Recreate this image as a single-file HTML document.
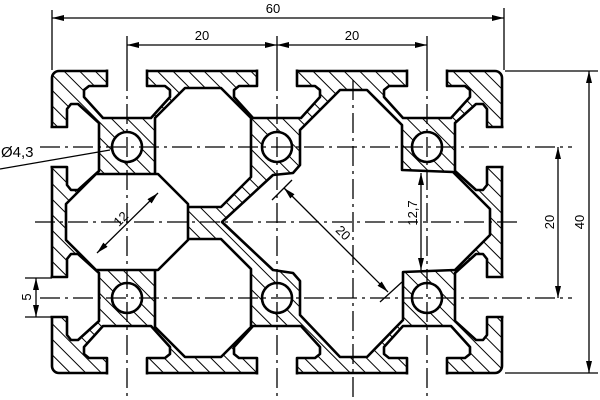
<!DOCTYPE html>
<html><head><meta charset="utf-8"><style>
html,body{margin:0;padding:0;background:#fff;}
svg{display:block;}
text{font-family:"Liberation Sans",sans-serif;font-size:13px;fill:#000;}
</style></head><body>
<svg width="600" height="400" viewBox="0 0 600 400" xmlns="http://www.w3.org/2000/svg">
<defs>
<pattern id="h" width="11" height="11" patternUnits="userSpaceOnUse" patternTransform="rotate(45)">
<rect width="11" height="11" fill="#fff"/>
<line x1="0" y1="5" x2="11" y2="5" stroke="#000" stroke-width="1"/>
</pattern>
<marker id="a" viewBox="0 0 12 6" refX="12" refY="3" markerWidth="12" markerHeight="6" markerUnits="userSpaceOnUse" orient="auto-start-reverse">
<path d="M0,0 L12,3 L0,6 z" fill="#000"/>
</marker>
<polygon id="slot" points="-20,-5 20,-5 20,15 38,15 43,19 43,26 24,47 -24,47 -43,26 -43,19 -38,15 -20,15"/>
</defs>

<!-- profile body -->
<rect x="52" y="71" width="450" height="302" rx="7" fill="url(#h)" stroke="#000" stroke-width="2.6"/>

<g fill="#fff" stroke="#000" stroke-width="2.6" stroke-linejoin="round">
<use href="#slot" transform="translate(127,71)"/>
<use href="#slot" transform="translate(277,71)"/>
<use href="#slot" transform="translate(427,71)"/>
<use href="#slot" transform="translate(127,373) scale(1,-1)"/>
<use href="#slot" transform="translate(277,373) scale(1,-1)"/>
<use href="#slot" transform="translate(427,373) scale(1,-1)"/>
<use href="#slot" transform="translate(52,147) rotate(-90)"/>
<use href="#slot" transform="translate(52,297) rotate(-90)"/>
<use href="#slot" transform="translate(502,147) rotate(90)"/>
<use href="#slot" transform="translate(502,297) rotate(90)"/>

<polygon points="185,88 221,88 251,118 251,177 221,207 185,207 155,177 155,118"/>
<polygon points="185,239 221,239 251,269 251,327 221,357 185,357 155,327 155,269"/>
<polygon points="96,174 158,174 188,204 188,240 158,270 96,270 66,240 66,204"/>
<polygon points="340,90 367,90 402,125 402,170 453,172 490,209 490,235 455,270 403,272 403,320 367,357 340,357 300,315 300,281 293,273 273,270 222,222 273,175 293,173 300,165 300,130"/>

<circle cx="127" cy="147" r="15"/>
<circle cx="277" cy="147" r="15"/>
<circle cx="427" cy="147" r="15"/>
<circle cx="127" cy="298" r="15"/>
<circle cx="277" cy="298" r="15"/>
<circle cx="427" cy="298" r="15"/>
</g>

<!-- white mask outside profile to open slot mouths -->
<path fill="#fff" fill-rule="evenodd" d="M0,0 H600 V400 H0 Z M58,69.5 H496 Q503.5,69.5 503.5,77 V367 Q503.5,374.5 496,374.5 H58 Q50.5,374.5 50.5,367 V77 Q50.5,69.5 58,69.5 Z"/>

<!-- centerlines -->
<g stroke="#000" stroke-width="1.3" fill="none" stroke-dasharray="20 5 3 5">
<line x1="40" y1="147" x2="572" y2="147"/>
<line x1="35" y1="222" x2="520" y2="222"/>
<line x1="40" y1="298" x2="572" y2="298"/>
<line x1="127" y1="71" x2="127" y2="396"/>
<line x1="277" y1="71" x2="277" y2="396"/>
<line x1="427" y1="71" x2="427" y2="396"/>
<line x1="353" y1="80" x2="353" y2="398"/>
</g>

<g stroke="#000" stroke-width="1.3" fill="none">
<line x1="52" y1="10" x2="52" y2="70"/>
<line x1="504" y1="8" x2="504" y2="70"/>
<line x1="127" y1="36" x2="127" y2="71"/>
<line x1="277" y1="36" x2="277" y2="71"/>
<line x1="427" y1="36" x2="427" y2="71"/>
<line x1="52" y1="18" x2="504" y2="18" marker-start="url(#a)" marker-end="url(#a)"/>
<line x1="127" y1="45" x2="277" y2="45" marker-start="url(#a)" marker-end="url(#a)"/>
<line x1="277" y1="45" x2="427" y2="45" marker-start="url(#a)" marker-end="url(#a)"/>

<line x1="505" y1="71" x2="598" y2="71"/>
<line x1="505" y1="373" x2="598" y2="373"/>
<line x1="589" y1="71" x2="589" y2="373" marker-start="url(#a)" marker-end="url(#a)"/>
<line x1="558" y1="147" x2="558" y2="298" marker-start="url(#a)" marker-end="url(#a)"/>

<line x1="421" y1="173" x2="421" y2="270" marker-start="url(#a)" marker-end="url(#a)"/>

<line x1="284" y1="188" x2="388" y2="292" marker-start="url(#a)" marker-end="url(#a)"/>
<line x1="272" y1="200" x2="292" y2="180"/>
<line x1="380" y1="302" x2="402" y2="282"/>

<line x1="158" y1="193" x2="97" y2="253" marker-start="url(#a)" marker-end="url(#a)"/>

<line x1="25" y1="278" x2="52" y2="278"/>
<line x1="25" y1="317" x2="52" y2="317"/>
<line x1="36" y1="278" x2="36" y2="317" marker-start="url(#a)" marker-end="url(#a)"/>

<line x1="0" y1="169" x2="110" y2="150"/>
</g>

<text x="273" y="13" text-anchor="middle">60</text>
<text x="202" y="40" text-anchor="middle">20</text>
<text x="352" y="40" text-anchor="middle">20</text>
<text transform="translate(584,222) rotate(-90)" text-anchor="middle">40</text>
<text transform="translate(554,222) rotate(-90)" text-anchor="middle">20</text>
<text transform="translate(417,213) rotate(-90)" text-anchor="middle">12,7</text>
<text transform="translate(340,236) rotate(45)" text-anchor="middle">20</text>
<text transform="translate(124,222) rotate(-45)" text-anchor="middle">12</text>
<text transform="translate(31,297) rotate(-90)" text-anchor="middle">5</text>
<text x="1" y="157" style="font-size:15px">Ø4,3</text>
</svg>
</body></html>
